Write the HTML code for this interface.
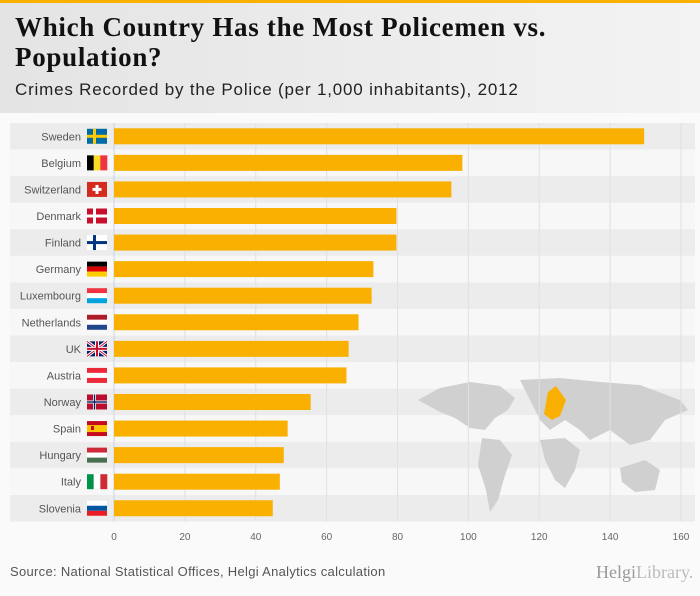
<!DOCTYPE html>
<html><head><meta charset="utf-8"><style>
body{margin:0;width:700px;height:596px;background:#fafafa;font-family:"Liberation Sans",sans-serif;overflow:hidden;position:relative}
#hdr{position:absolute;left:0;top:0;width:700px;height:113px;background:linear-gradient(90deg,#e4e4e4,#f3f3f3)}
#topbar{position:absolute;left:0;top:0;width:700px;height:3px;background:#f9b000}
h1{position:absolute;left:15px;top:12px;margin:0;font:bold 27px/30px "Liberation Serif",serif;letter-spacing:0.7px;color:#111}
#sub{position:absolute;left:15px;top:80px;font-size:17px;letter-spacing:0.8px;color:#222}
#src{position:absolute;left:10px;top:564px;font-size:13px;letter-spacing:0.3px;color:#555}
#logo{position:absolute;left:596px;top:562px;font:18px "Liberation Serif",serif;color:#999}
</style></head><body>
<div id="hdr"></div>
<div id="topbar"></div>
<h1>Which Country Has the Most Policemen vs.<br>Population?</h1>
<div id="sub">Crimes Recorded by the Police (per 1,000 inhabitants), 2012</div>
<svg id="chart" width="700" height="596" style="position:absolute;left:0;top:0"></svg>
<div id="src">Source: National Statistical Offices, Helgi Analytics calculation</div>
<div id="logo">Helgi<span style="color:#bbb">Library.</span></div>
<script>
const countries=["Sweden","Belgium","Switzerland","Denmark","Finland","Germany","Luxembourg","Netherlands","UK","Austria","Norway","Spain","Hungary","Italy","Slovenia"];
const values=[149.6,98.3,95.2,79.7,79.7,73.2,72.7,69,66.2,65.6,55.5,49,47.9,46.8,44.8];
const ticks=[0,20,40,60,80,100,120,140,160];
const NS="http://www.w3.org/2000/svg";
const svg=document.getElementById('chart');
const x0=114,x1=681,vmax=160,top0=123,pitch=26.57;
const xs=v=>x0+(x1-x0)*v/vmax;
function mk(t,a,p){const e=document.createElementNS(NS,t);for(const k in a)e.setAttribute(k,a[k]);(p||svg).appendChild(e);return e;}
countries.forEach((c,i)=>{
 const b=mk('rect',{x:10,y:top0+i*pitch,width:685,height:pitch,fill:i%2?'#f7f7f7':'#ececec'});
 
 
});
const map=mk('g',{fill:'#d0d0d0'});


mk('path',{d:"M418 400 L440 388 L470 382 L500 386 L515 398 L508 410 L495 418 L485 430 L470 428 L455 418 L440 412 Z"},map);
mk('path',{d:"M482 438 L500 440 L512 455 L505 475 L498 500 L490 512 L486 490 L478 465 Z"},map);
mk('path',{d:"M520 380 L560 378 L600 382 L640 385 L680 400 L688 410 L665 420 L650 440 L630 445 L610 430 L590 440 L580 430 L565 420 L550 430 L540 420 Z"},map);
mk('path',{d:"M540 440 L565 438 L580 450 L575 470 L565 488 L555 480 L545 460 Z"},map);
mk('path',{d:"M620 468 L645 460 L660 470 L655 490 L635 492 L622 482 Z"},map);
mk('path',{d:"M548 392 L556 386 L566 400 L560 416 L552 420 L544 414 Z",fill:'#f9b000'},map);
ticks.forEach(t=>{
 const l=mk('line',{x1:xs(t),x2:xs(t),y1:top0,y2:top0+countries.length*pitch,stroke:t===0?'#c9d3e6':'#e0e0e6','stroke-width':1});
 
 
 const tx=mk('text',{x:xs(t),y:540,'text-anchor':'middle','font-size':10,fill:'#666','font-family':'Liberation Sans'});
 tx.textContent=t;
 
 
});
const flags={Sweden:['#006aa7','#fecc00','cross'],Belgium:['#000','#fdda24','#ef3340','v'],Switzerland:['#d52b1e','#fff','swiss'],Denmark:['#c8102e','#fff','cross'],Finland:['#fff','#003580','cross'],Germany:['#000','#dd0000','#ffce00','h'],Luxembourg:['#ef3340','#fff','#00a3e0','h'],Netherlands:['#ae1c28','#fff','#21468b','h'],UK:['#012169','#fff','uk'],Austria:['#ed2939','#fff','#ed2939','h'],Norway:['#ba0c2f','#fff','cross2'],Spain:['#c60b1e','#ffc400','spain'],Hungary:['#ce2939','#fff','#477050','h'],Italy:['#009246','#fff','#ce2b37','v'],Slovenia:['#fff','#0056a3','#ed1c24','h']};
countries.forEach((c,i)=>{
 const cy=top0+i*pitch+pitch/2;
 const t=mk('text',{x:81,y:cy+4,'text-anchor':'end','font-size':11,fill:'#555','font-family':'Liberation Sans'});
 t.textContent=c;
 
 
 const g=mk('g',{});
 
 
 const f=flags[c],fx=87,fy=cy-7.5,w=20,h=15,k=f[f.length-1];
 if(k==='h'){[0,1,2].forEach(j=>mk('rect',{x:fx,y:fy+j*5,width:w,height:5,fill:f[j]},g));}
 else if(k==='v'){[0,1,2].forEach(j=>mk('rect',{x:fx+j*w/3,y:fy,width:w/3+.3,height:h,fill:f[j]},g));}
 else if(k==='cross'||k==='cross2'){mk('rect',{x:fx,y:fy,width:w,height:h,fill:f[0]},g);mk('rect',{x:fx+6,y:fy,width:3,height:h,fill:f[1]},g);mk('rect',{x:fx,y:fy+6,width:w,height:3,fill:f[1]},g);if(k==='cross2'){mk('rect',{x:fx+6.8,y:fy,width:1.4,height:h,fill:'#00205b'},g);mk('rect',{x:fx,y:fy+6.8,width:w,height:1.4,fill:'#00205b'},g);}}
 else if(k==='swiss'){mk('rect',{x:fx,y:fy,width:w,height:h,fill:f[0]},g);mk('rect',{x:fx+8.5,y:fy+3,width:3,height:9,fill:'#fff'},g);mk('rect',{x:fx+5.5,y:fy+6,width:9,height:3,fill:'#fff'},g);}
 else if(k==='uk'){mk('rect',{x:fx,y:fy,width:w,height:h,fill:f[0]},g);mk('path',{d:`M${fx} ${fy}L${fx+w} ${fy+h}M${fx+w} ${fy}L${fx} ${fy+h}`,stroke:'#fff','stroke-width':3},g);mk('path',{d:`M${fx} ${fy}L${fx+w} ${fy+h}M${fx+w} ${fy}L${fx} ${fy+h}`,stroke:'#c8102e','stroke-width':1},g);mk('rect',{x:fx+8,y:fy,width:4,height:h,fill:'#fff'},g);mk('rect',{x:fx,y:fy+5.5,width:w,height:4,fill:'#fff'},g);mk('rect',{x:fx+9,y:fy,width:2,height:h,fill:'#c8102e'},g);mk('rect',{x:fx,y:fy+6.5,width:w,height:2,fill:'#c8102e'},g);}
 else if(k==='spain'){mk('rect',{x:fx,y:fy,width:w,height:h,fill:f[0]},g);mk('rect',{x:fx,y:fy+4,width:w,height:7,fill:f[1]},g);mk('rect',{x:fx+4,y:fy+5,width:3,height:4,fill:'#c60b1e'},g);}
 const bar=mk('rect',{x:x0,y:cy-8,width:xs(values[i])-x0,height:16,fill:'#f9b000'});
 
 
});
</script>
</body></html>
